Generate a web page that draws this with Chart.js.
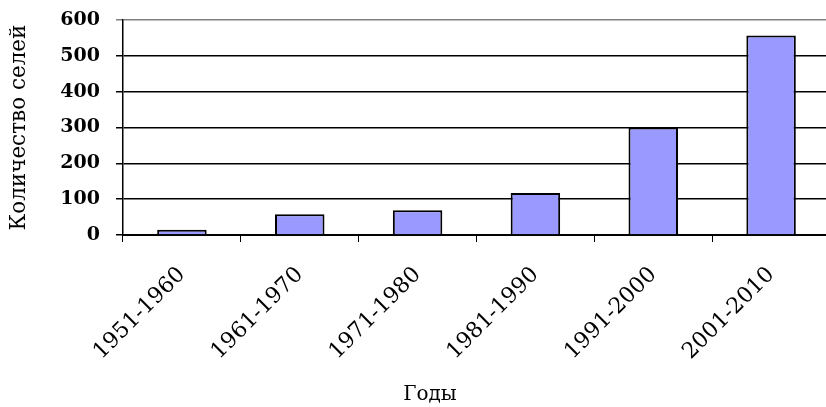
<!DOCTYPE html>
<html lang="ru">
  <head>
    <meta charset="UTF-8" />
    <title>Количество селей</title>
    <script src="https://cdn.jsdelivr.net/npm/chart.js"></script>
    <style>
      html, body { margin: 0; padding: 0; background: #fff; overflow: hidden; }
      #wrap { width: 832px; height: 407px; }
    </style>
  </head>
  <body>
    <div id="wrap"><canvas id="bieuDo"></canvas></div>
    <script>
      // данные
      const periods = ["1951-1960", "1961-1970", "1971-1980", "1981-1990", "1991-2000", "2001-2010"];
      const mudflows = [15, 58, 69, 117, 300, 557];
      const yTicks = [0, 100, 200, 300, 400, 500, 600];

      const serif = "'DejaVu Serif', serif";

      // подпись "Годы" под осью
      const xTitle = {
        id: "xTitle",
        afterDraw(chart) {
          const ctx = chart.ctx;
          ctx.save();
          ctx.font = "20px " + serif;
          ctx.fillStyle = "#000";
          ctx.textAlign = "center";
          ctx.textBaseline = "middle";
          ctx.fillText("Годы", chart.chartArea.left + 307, 395);
          ctx.restore();
        },
      };

      new Chart(document.getElementById("bieuDo"), {
        type: "bar",
        data: {
          labels: periods,
          datasets: [{
            data: mudflows,
            backgroundColor: "#9999ff",
            borderColor: "#000",
            borderWidth: 2,
            barPercentage: 0.42,
            categoryPercentage: 1,
          }],
        },
        options: {
          responsive: true,
          maintainAspectRatio: false,
          animation: false,
          layout: { padding: { top: 20, right: 2, left: 0, bottom: 0 } },
          plugins: { legend: { display: false }, tooltip: { enabled: false } },
          scales: {
            x: {
              afterFit: (s) => {
                s.height = 172;
                s.paddingLeft = 0;
                s.paddingRight = 0;
              },
              grid: {
                display: true,
                drawOnChartArea: false,
                drawTicks: true,
                tickLength: 7,
                color: "#000",
                offset: true,
              },
              border: { color: "#000", width: 2 },
              ticks: {
                minRotation: 45,
                maxRotation: 45,
                padding: 20,
                color: "#000",
                font: { family: serif, size: 22 },
              },
            },
            y: {
              min: 0,
              max: 600,
              afterFit: (s) => {
                s.width = 123;
                s.paddingTop = 0;
                s.paddingBottom = 0;
              },
              afterBuildTicks: (s) => { s.ticks = yTicks.map((v) => ({ value: v })); },
              grid: {
                color: (c) => (c.tick && c.tick.value === 600 ? "#808080" : "#000"),
                lineWidth: 1.5,
                tickLength: 7,
              },
              border: { color: "#000", width: 1.5 },
              ticks: {
                padding: 16,
                color: "#000",
                font: { family: serif, size: 19, weight: "bold" },
              },
              title: {
                display: true,
                text: "Количество селей",
                color: "#000",
                padding: { top: 7, bottom: 0 },
                font: { family: serif, size: 21.5 },
              },
            },
          },
        },
        plugins: [xTitle],
      });
    </script>
  </body>
</html>
